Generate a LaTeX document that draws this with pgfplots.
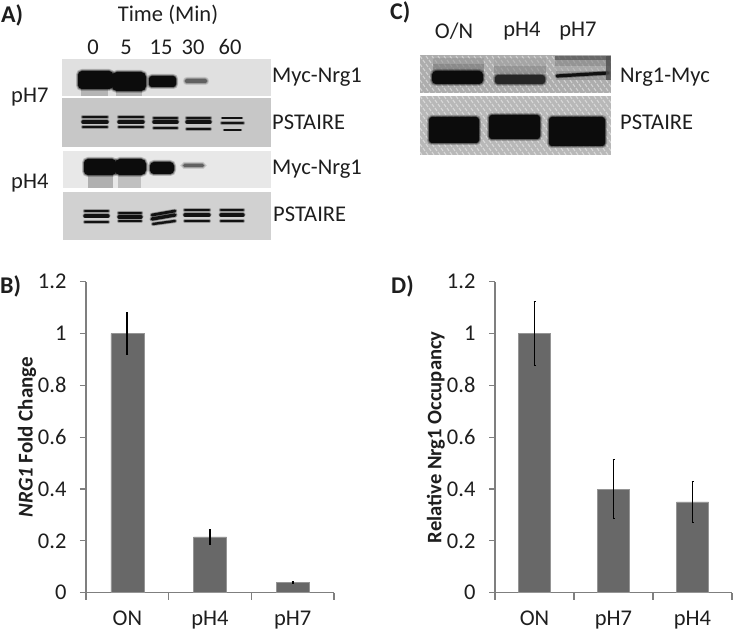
\documentclass[border=0pt]{standalone}
\usepackage{pgfplots}
\pgfplotsset{compat=1.18}
\usepackage{fontspec}
\setmainfont{Carlito}
\definecolor{txt}{HTML}{1E1E1E}
\definecolor{axc}{HTML}{7F7F7F}
\definecolor{barc}{HTML}{686868}
\definecolor{ink}{HTML}{0C0C0C}
\newcommand\blob[6]{%
  \fill[#5,draw=#5,line width=4pt,opacity=.22,rounded corners=#6pt] (#1,#2) rectangle (#3,#4);
  \fill[#5,draw=#5,line width=2pt,opacity=.4,rounded corners=#6pt] (#1,#2) rectangle (#3,#4);
  \fill[#5,rounded corners=#6pt] (#1,#2) rectangle (#3,#4);}
\newcommand\bnd[5]{%
  \draw[ink,line width=#5pt+1.6pt,line cap=round,opacity=.3] (#1,#2) -- (#3,#4);
  \draw[ink,line width=#5pt,line cap=round,opacity=.95] (#1,#2) -- (#3,#4);}
\newcommand\lane[5]{\bnd{#1}{#3}{#2}{#3}{2.8}\bnd{#1}{#4}{#2}{#4}{3.4}\bnd{#1}{#5}{#2}{#5}{2.4}}
\pgfplotsset{
  barax/.style={
    at={(#1)},anchor=south west,scale only axis,
    axis lines=left,axis line style={axc,line width=1.4pt,-},
    ymin=0,ymax=1.2,ytick={0,0.2,0.4,0.6,0.8,1,1.2},
    xmin=0.5,xmax=3.5,xtick={1,2,3},
    minor xtick={0.5,1.5,2.5,3.5},
    tick align=outside,
    major x tick style={draw=none},
    minor x tick style={axc,line width=1.2pt},
    major y tick style={axc,line width=1.2pt},
    major tick length=6pt,minor tick length=7pt,
    tick label style={font=\fontsize{22.5}{24}\selectfont,text=txt},
    /pgf/number format/assume math mode=true,
    xticklabel style={yshift=-9pt},
    yticklabel style={xshift=-10pt},
    clip=false,
  },
  barpl/.style={ybar,bar shift=0pt,bar width=#1,fill=barc,draw=barc!70!white,line width=.6pt,
    error bars/.cd,y dir=both,y explicit,
    error bar style={black,line width=1.8pt},
    error mark options={rotate=90,mark size=1pt,line width=1pt,black}},
}
\begin{document}
\begin{tikzpicture}
\path[use as bounding box] (0,0) rectangle (733pt,630pt);
\begin{scope}[x=1pt,y=-1pt,yshift=630pt]
% Panel A
\fill[black!12] (62,59) rectangle (271,96);
\fill[black!22] (62,98) rectangle (271,147);
\fill[black!9]  (63,151) rectangle (271,188);
\fill[black!18] (63,192) rectangle (271,240);
\fill[black!40,opacity=.6] (81,88) rectangle (108,96);
\fill[black!40,opacity=.6] (116,88) rectangle (142,96);
\blob{78}{71}{113}{89}{ink}{4}
\blob{112}{72}{146}{91}{ink}{5}
\blob{149}{76}{176}{87}{ink}{3}
\blob{185}{79}{207}{83}{black!62}{2}
\lane{83}{107}{117}{122}{127}
\lane{119}{143}{117}{122}{127}
\lane{154}{177}{118}{122}{128}
\lane{187}{210}{118}{122}{129}
\bnd{222}{123}{243}{123}{2.6}
\bnd{222}{118}{242}{118}{1.2}
\bnd{224}{130}{241}{130}{1.2}
\fill[black!45,opacity=.6] (88,174) rectangle (113,188);
\fill[black!35,opacity=.6] (118,174) rectangle (141,188);
\blob{84}{159}{116}{175}{ink}{4}
\blob{115}{159}{146}{175}{ink}{5}
\blob{150}{162}{174}{174}{ink}{4}
\blob{183}{164}{204}{167}{black!62}{1.5}
\lane{85}{108}{211}{216}{222}
\lane{119}{141}{213}{217}{221}
\bnd{152}{215}{175}{211}{2.8}\bnd{152}{219}{175}{215}{3.4}\bnd{153}{224}{175}{221}{2.4}
\lane{185}{209}{210}{215}{221}
\lane{221}{243}{210}{215}{221}
% Panel C
\fill[black!32] (420,55) rectangle (611,93);
\fill[black!28] (420,96) rectangle (611,155);
\begin{scope}
\clip (420,55) rectangle (611,93) (420,96) rectangle (611,155);
\foreach \r in {0,...,25}{\foreach \c in {0,...,32}{
  \pgfmathsetmacro\px{420+\c*6+mod(\r,2)*3}
  \pgfmathsetmacro\py{56+\r*4}
  \draw[white,opacity=.45,line width=1.1pt] (\px,\py) -- ++(2,3);}}
\end{scope}
\fill[black!45,opacity=.45] (433,58) rectangle (484,64);
\fill[black!55,opacity=.6] (433,64) rectangle (484,72);
\fill[black!40,opacity=.4] (494,58) rectangle (546,66);
\fill[black!50,opacity=.55] (494,66) rectangle (546,73);
\fill[black!70,opacity=.7] (555,56) rectangle (610,60);
\fill[black!50,opacity=.55] (555,60) rectangle (610,66);
\fill[black!35,opacity=.5] (555,66) rectangle (610,71);
\fill[black!45,opacity=.6] (556,71) rectangle (610,80);
\blob{432}{71}{483}{84}{ink}{4}
\blob{495}{75}{545}{84}{black!85}{3}
\bnd{557}{76}{608}{73}{3.2}
\fill[black!70,opacity=.8] (606,56) rectangle (611,80);
\blob{429}{117}{479}{143}{ink}{3}
\blob{489}{115}{540}{139}{ink}{3}
\blob{549}{117}{605}{146}{ink}{3}
% Blot labels
\begin{scope}[every node/.style={font=\fontsize{22.5}{24}\selectfont,text=txt,inner sep=0pt}]
\node[anchor=west,font=\fontsize{24}{26}\selectfont\bfseries] at (1,15) {A)};
\node at (168,15) {Time (Min)};
\node at (93,47) {0};
\node at (126,47) {5};
\node at (161,47) {15};
\node at (193,47) {30};
\node at (230,47) {60};
\node[anchor=west] at (272,77) {Myc-Nrg1};
\node[anchor=west] at (272,122) {PSTAIRE};
\node[anchor=west] at (272,169) {Myc-Nrg1};
\node[anchor=west] at (273,214) {PSTAIRE};
\node[anchor=west] at (11,97) {pH7};
\node[anchor=west] at (11,183) {pH4};
\node[anchor=west,font=\fontsize{24}{26}\selectfont\bfseries] at (390,12) {C)};
\node at (454,31) {O/N};
\node at (522,31) {pH4};
\node at (578,31) {pH7};
\node[anchor=west] at (620,77) {Nrg1-Myc};
\node[anchor=west] at (620,122) {PSTAIRE};
\node[anchor=west,font=\fontsize{24}{26}\selectfont\bfseries] at (0,286) {B)};
\node[anchor=west,font=\fontsize{24}{26}\selectfont\bfseries] at (391,286) {D)};
\end{scope}
\end{scope}
% Panel B
\begin{axis}[barax={86pt,37.3pt},width=248pt,height=311pt,
  xticklabels={ON,pH4,pH7},
  ylabel={\textbf{\textit{NRG1} Fold Change}},
  ylabel style={at={(axis description cs:-0.238,0.5)},anchor=center,font=\fontsize{21}{23}\selectfont,text=txt}]
\addplot[barpl=33pt] coordinates {(1,1) +- (0,0.08) (2,0.215) +- (0,0.03) (3,0.04) +- (0,0.004)};
\end{axis}
% Panel D
\begin{axis}[barax={495pt,37.3pt},width=237pt,height=311pt,
  xticklabels={ON,pH7,pH4},
  ylabel={\textbf{Relative Nrg1 Occupancy}},
  ylabel style={at={(axis description cs:-0.249,0.5)},anchor=center,font=\fontsize{20.6}{23}\selectfont,text=txt}]
\addplot[barpl=32pt] coordinates {(1,1) +- (0,0.125) (2,0.4) +- (0,0.115) (3,0.35) +- (0,0.08)};
\end{axis}
\end{tikzpicture}
\end{document}
